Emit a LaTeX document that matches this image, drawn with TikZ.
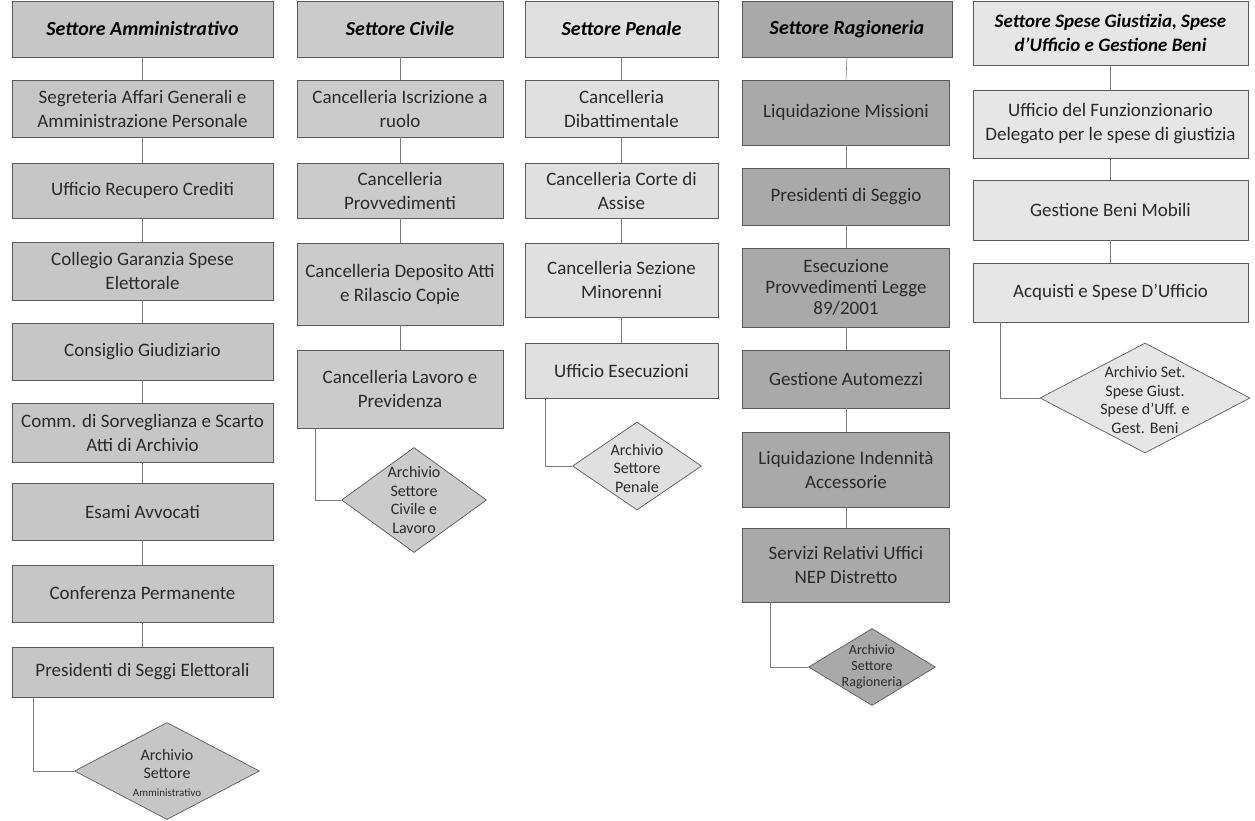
\documentclass[tikz,border=0pt]{standalone}
\usepackage{fontspec}
\setmainfont{Carlito}
\usetikzlibrary{shapes.geometric}
\definecolor{fA}{HTML}{C6C6C6}
\definecolor{fB}{HTML}{CBCBCB}
\definecolor{fC}{HTML}{E0E0E0}
\definecolor{fD}{HTML}{A9A9A9}
\definecolor{fE}{HTML}{E6E6E6}
\definecolor{edge}{HTML}{5A5A5A}
\definecolor{txt}{HTML}{2A2A2A}
\tikzset{
  box/.style={draw=edge, line width=0.7pt, rectangle, inner sep=1pt, align=center,
    text=txt, font=\fontsize{19}{24}\selectfont},
  head/.style={box, font=\fontsize{20}{24}\selectfont\bfseries\itshape, text=black},
  diam/.style={draw=edge, line width=0.7pt, diamond, inner sep=0pt},
  dtext/.style={align=center, text=txt, font=\fontsize{16}{18.5}\selectfont, inner sep=0pt},
  link/.style={draw=edge!80, line width=0.6pt},
}
\begin{document}
\begin{tikzpicture}[x=1pt,y=-1pt]
\useasboundingbox (0,0) rectangle (1255,820);
% ---------- Column 1: Amministrativo ----------
\begin{scope}[every node/.append style={minimum width=261pt, fill=fA}]
\node[head, minimum height=56pt] (a0) at (142.5,29) {Settore Amministrativo};
\node[box, minimum height=57pt] (a1) at (142.5,108.5) {Segreteria Affari Generali e\\Amministrazione Personale};
\node[box, minimum height=55pt] (a2) at (142.5,190.5) {Ufficio Recupero Crediti};
\node[box, minimum height=58pt] (a3) at (142.5,271) {Collegio Garanzia Spese\\Elettorale};
\node[box, minimum height=57pt] (a4) at (142.5,351.5) {Consiglio Giudiziario};
\node[box, minimum height=59pt] (a5) at (142.5,432.5) {Comm. di Sorveglianza e Scarto\\Atti di Archivio};
\node[box, minimum height=57pt] (a6) at (142.5,511.5) {Esami Avvocati};
\node[box, minimum height=57pt] (a7) at (142.5,593.5) {Conferenza Permanente};
\node[box, minimum height=50pt] (a8) at (142.5,672) {Presidenti di Seggi Elettorali};
\end{scope}
\node[diam, fill=fA, minimum width=185pt, minimum height=97pt] (ad) at (167,771) {};
\node[dtext, font=\fontsize{16}{18}\selectfont] (adt) at (167,773) {Archivio\\Settore\\{\fontsize{11}{13}\selectfont Amministrativo}};
\foreach \i/\j in {a0/a1,a1/a2,a2/a3,a3/a4,a4/a5,a5/a6,a6/a7,a7/a8}
  \draw[link] (\i.south) -- (\j.north);
\coordinate (ak) at (33,771);
\draw[link] (a8.south -| ak) -- (ak) -- (ad.west);
% ---------- Column 2: Civile ----------
\begin{scope}[every node/.append style={minimum width=206pt, fill=fB}]
\node[head, minimum height=56pt] (b0) at (400,29) {Settore Civile};
\node[box, minimum height=57pt] (b1) at (400,108.5) {Cancelleria Iscrizione a\\ruolo};
\node[box, minimum height=55pt] (b2) at (400,190.5) {Cancelleria\\Provvedimenti};
\node[box, minimum height=82pt] (b3) at (400,284) {Cancelleria Deposito Atti\\e Rilascio Copie};
\node[box, minimum height=78pt] (b4) at (400,389) {Cancelleria Lavoro e\\Previdenza};
\end{scope}
\node[diam, fill=fB, minimum width=145pt, minimum height=105pt] (bd) at (414,500) {};
\node[dtext] (bdt) at (414,500) {Archivio\\Settore\\Civile e\\Lavoro};
\foreach \i/\j in {b0/b1,b1/b2,b2/b3,b3/b4}
  \draw[link] (\i.south) -- (\j.north);
\coordinate (bk) at (315,500);
\draw[link] (b4.south -| bk) -- (bk) -- (bd.west);
% ---------- Column 3: Penale ----------
\begin{scope}[every node/.append style={minimum width=193pt, fill=fC}]
\node[head, minimum height=56pt] (c0) at (621.5,29) {Settore Penale};
\node[box, minimum height=57pt] (c1) at (621.5,108.5) {Cancelleria\\Dibattimentale};
\node[box, minimum height=55pt] (c2) at (621.5,190.5) {Cancelleria Corte di\\Assise};
\node[box, minimum height=74pt] (c3) at (621.5,280) {Cancelleria Sezione\\Minorenni};
\node[box, minimum height=55pt] (c4) at (621.5,370.5) {Ufficio Esecuzioni};
\end{scope}
\node[diam, fill=fC, minimum width=129pt, minimum height=88pt] (cd) at (637,466) {};
\node[dtext] (cdt) at (637,468) {Archivio\\Settore\\Penale};
\foreach \i/\j in {c0/c1,c1/c2,c2/c3,c3/c4}
  \draw[link] (\i.south) -- (\j.north);
\coordinate (ck) at (545,466);
\draw[link] (c4.south -| ck) -- (ck) -- (cd.west);
% ---------- Column 4: Ragioneria ----------
\begin{scope}[every node/.append style={minimum width=207pt, fill=fD}]
\node[head, minimum height=56pt, minimum width=210pt] (d0) at (847,29) {Settore Ragioneria};
\node[box, minimum height=65pt] (d1) at (846,112.5) {Liquidazione Missioni};
\node[box, minimum height=57pt] (d2) at (846,196.5) {Presidenti di Seggio};
\node[box, minimum height=79pt, font=\fontsize{19}{21}\selectfont] (d3) at (846,287.5) {Esecuzione\\Provvedimenti Legge\\89/2001};
\node[box, minimum height=58pt] (d4) at (846,379) {Gestione Automezzi};
\node[box, minimum height=75pt] (d5) at (846,469.5) {Liquidazione Indennità\\Accessorie};
\node[box, minimum height=74pt] (d6) at (846,565) {Servizi Relativi Uffici\\NEP Distretto};
\end{scope}
\node[diam, fill=fD, minimum width=127pt, minimum height=77pt] (dd) at (872,667) {};
\node[dtext, font=\fontsize{14}{16}\selectfont] (ddt) at (872,667) {Archivio\\Settore\\Ragioneria};
\foreach \i/\j in {d0/d1,d1/d2,d2/d3,d3/d4,d4/d5,d5/d6}
  \draw[link] (\i.south) -- (\j.north);
\coordinate (dk) at (770,667);
\draw[link] (d6.south -| dk) -- (dk) -- (dd.west);
% ---------- Column 5: Spese Giustizia ----------
\begin{scope}[every node/.append style={minimum width=275pt, fill=fE}]
\node[head, minimum height=64pt, font=\fontsize{19}{24}\selectfont\bfseries\itshape] (e0) at (1110.5,33) {Settore Spese Giustizia, Spese\\d'Ufficio e Gestione Beni};
\node[box, minimum height=68pt] (e1) at (1110.5,124) {Ufficio del Funzionzionario\\Delegato per le spese di giustizia};
\node[box, minimum height=60pt] (e2) at (1110.5,210) {Gestione Beni Mobili};
\node[box, minimum height=59pt] (e3) at (1110.5,292.5) {Acquisti e Spese D'Ufficio};
\end{scope}
\node[diam, fill=fE, minimum width=210pt, minimum height=110pt] (ed) at (1145,398) {};
\node[dtext] (edt) at (1145,400) {Archivio Set.\\Spese Giust.\\Spese d'Uff. e\\Gest. Beni};
\foreach \i/\j in {e0/e1,e1/e2,e2/e3}
  \draw[link] (\i.south) -- (\j.north);
\coordinate (ek) at (1000,398);
\draw[link] (e3.south -| ek) -- (ek) -- (ed.west);
\end{tikzpicture}
\end{document}
